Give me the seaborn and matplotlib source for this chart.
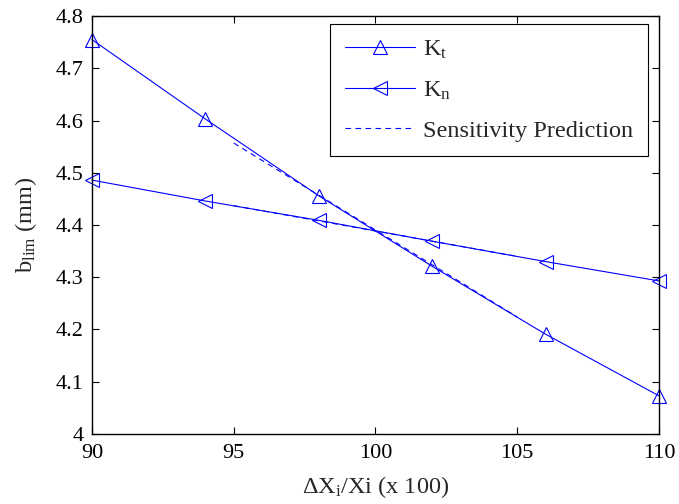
import matplotlib
matplotlib.use("Agg")
import matplotlib.pyplot as plt
import seaborn as sns
import pandas as pd

x_vals = [90, 94, 98, 102, 106, 110]
kt_vals = [4.755, 4.603, 4.456, 4.321, 4.191, 4.073]
kn_vals = [4.486, 4.446, 4.409, 4.369, 4.330, 4.293]

sens_x = [95, 105]
sens_kt = [4.557, 4.224]
sens_kn = [4.437, 4.340]

sns.set_style("ticks")
plt.rcParams['font.family'] = ['Liberation Serif', 'DejaVu Serif']
plt.rcParams['mathtext.fontset'] = 'custom'
plt.rcParams['mathtext.rm'] = 'Liberation Serif'
plt.rcParams['mathtext.it'] = 'Liberation Serif'

fig = plt.figure(figsize=(6.79, 5.04), dpi=100)
ax = fig.add_axes([0.1355, 0.139, 0.835, 0.829])

blue = (0, 0, 1)
df_kt = pd.DataFrame({"x": x_vals, "y": kt_vals})
df_kn = pd.DataFrame({"x": x_vals, "y": kn_vals})
df_skt = pd.DataFrame({"x": sens_x, "y": sens_kt})
df_skn = pd.DataFrame({"x": sens_x, "y": sens_kn})

sns.lineplot(data=df_kt, x="x", y="y", ax=ax, color=blue, lw=0.8, marker='^',
             markersize=10, markerfacecolor='none', markeredgecolor=blue,
             markeredgewidth=0.8, label=r'K$_\mathrm{t}$', clip_on=False)
sns.lineplot(data=df_kn, x="x", y="y", ax=ax, color=blue, lw=0.8, marker='<',
             markersize=10, markerfacecolor='none', markeredgecolor=blue,
             markeredgewidth=0.8, label=r'K$_\mathrm{n}$', clip_on=False)
sns.lineplot(data=df_skt, x="x", y="y", ax=ax, color=blue, lw=0.8,
             linestyle=(0, (5, 4)), label='Sensitivity Prediction')
sns.lineplot(data=df_skn, x="x", y="y", ax=ax, color=blue, lw=0.8,
             linestyle=(0, (5, 4)), label='_nolegend_')

ax.set_xlim(90, 110)
ax.set_ylim(4.0, 4.8)
ax.set_xticks([90, 95, 100, 105, 110])
ax.set_xticklabels(['90', '95', '100', '105', '110'])
ax.set_yticks([4.0, 4.1, 4.2, 4.3, 4.4, 4.5, 4.6, 4.7, 4.8])
ax.set_yticklabels(['4', '4.1', '4.2', '4.3', '4.4', '4.5', '4.6', '4.7', '4.8'])
ax.tick_params(direction='in', top=True, right=True, length=5, width=0.8,
               labelsize=16, colors='black')
ax.tick_params(axis='x', pad=7)
ax.tick_params(axis='y', pad=6)
for s in ax.spines.values():
    s.set_linewidth(1.0)
    s.set_color('black')

ax.set_xlabel(r'$\Delta$X$_\mathrm{i}$/Xi (x 100)', fontsize=17.5, labelpad=8)
ax.set_ylabel(r'b$_\mathrm{lim}$ (mm)', fontsize=17.5, labelpad=12)

leg = ax.legend(loc='upper right', bbox_to_anchor=(0.9805, 0.981), fontsize=17.5,
                frameon=True, fancybox=False, edgecolor='black', framealpha=1,
                handlelength=2.9, borderpad=0.6, labelspacing=0.75, handletextpad=0.33,
                borderaxespad=0)
leg.get_frame().set_linewidth(0.8)

fig.savefig("out.png", dpi=100)
